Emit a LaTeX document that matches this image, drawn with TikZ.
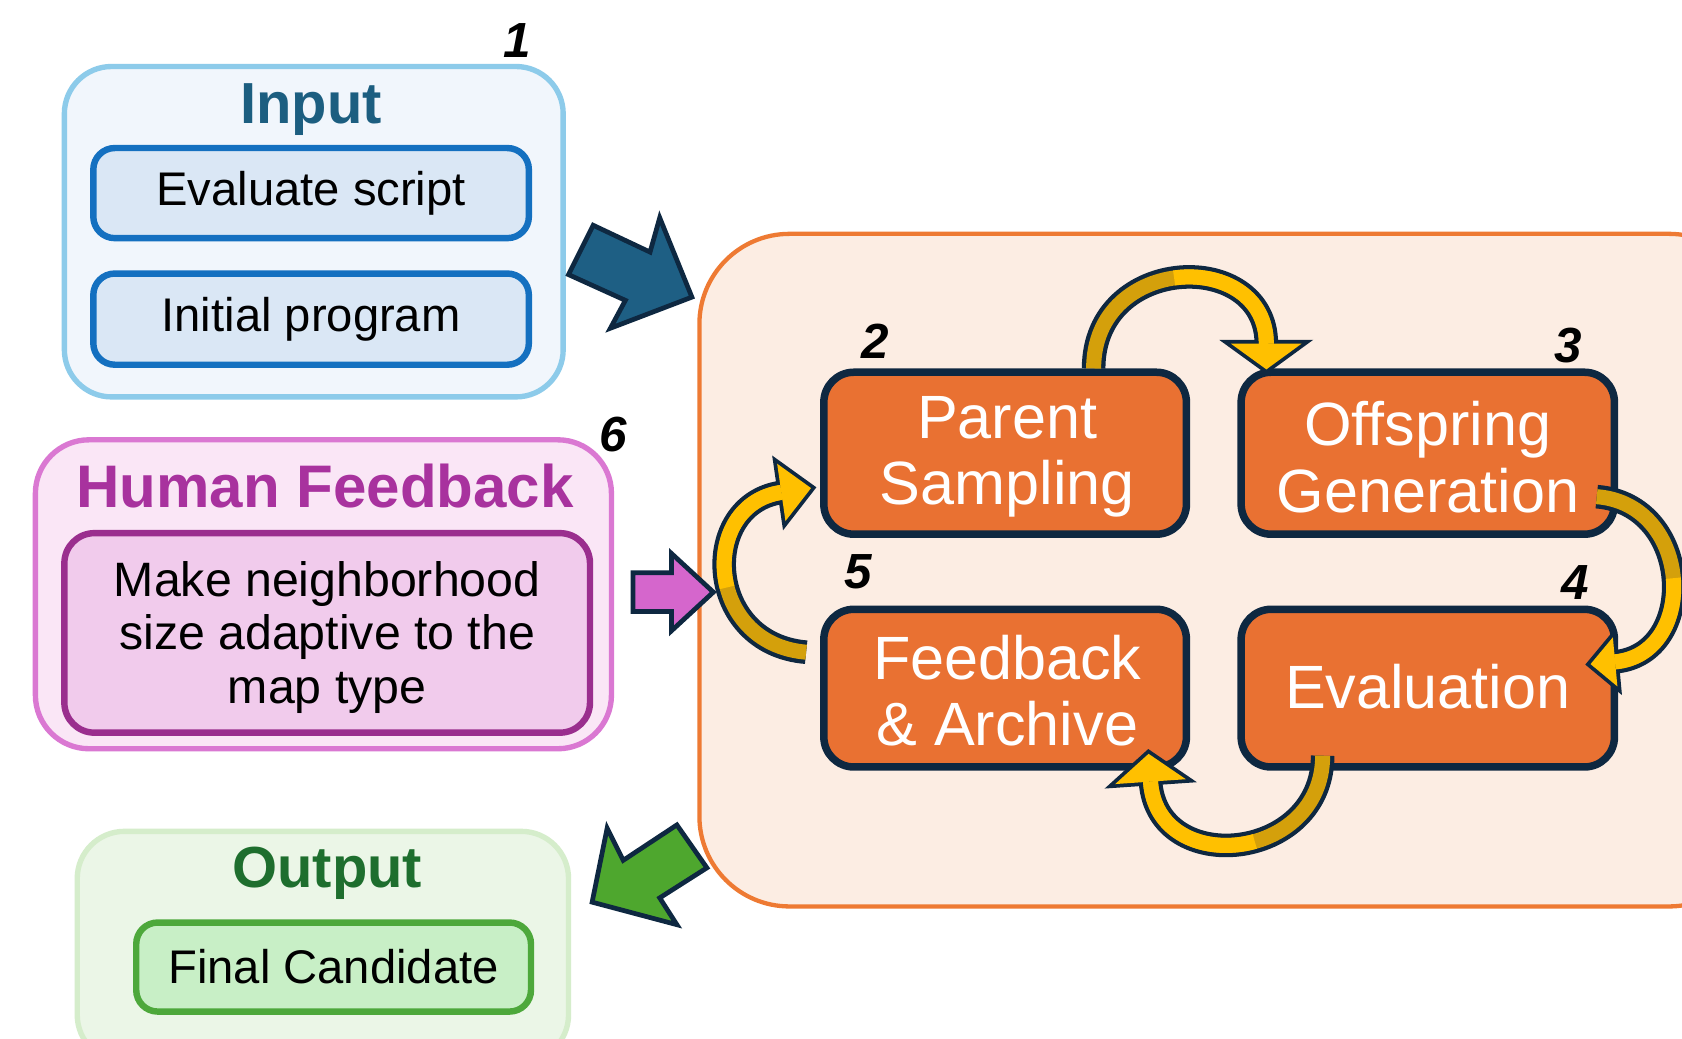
\documentclass[tikz,border=0pt]{standalone}
\usepackage{fontspec}
\setmainfont{Liberation Sans}
\usetikzlibrary{calc,decorations.markings}
\definecolor{navy}{HTML}{0E2841}
\definecolor{inoutfill}{HTML}{F1F6FC}
\definecolor{inoutdraw}{HTML}{8DCBEA}
\definecolor{intitle}{HTML}{1C5E80}
\definecolor{inboxfill}{HTML}{DAE7F5}
\definecolor{inboxdraw}{HTML}{1470C0}
\definecolor{hfoutfill}{HTML}{FAE6F6}
\definecolor{hfoutdraw}{HTML}{DA78D2}
\definecolor{hftitle}{HTML}{A8329E}
\definecolor{hfboxfill}{HTML}{F1CBEC}
\definecolor{hfboxdraw}{HTML}{9A2E8E}
\definecolor{ououtfill}{HTML}{EBF6E7}
\definecolor{ououtdraw}{HTML}{D5EDCB}
\definecolor{outitle}{HTML}{1E6E2E}
\definecolor{ouboxfill}{HTML}{C8EFC6}
\definecolor{ouboxdraw}{HTML}{4DA83B}
\definecolor{loopfill}{HTML}{FCEDE3}
\definecolor{loopdraw}{HTML}{EE7A33}
\definecolor{stepfill}{HTML}{E97132}
\definecolor{cgold}{HTML}{D4A00B}
\definecolor{cgoldhead}{HTML}{FFC000}
\definecolor{arrblue}{HTML}{1E5F84}
\definecolor{arrpink}{HTML}{D566CC}
\definecolor{arrgreen}{HTML}{4EA72E}
\begin{document}
\begin{tikzpicture}[x=0.5pt,y=-0.5pt,
  outerbox/.style={rounded corners=22pt, line width=2.5pt, inner sep=0pt},
  innerbox/.style={rounded corners=10pt, line width=3pt, inner sep=0pt, align=center,
    font=\fontsize{22}{25}\selectfont},
  titletext/.style={font=\fontsize{27}{30}\selectfont\bfseries, inner sep=0pt},
  stepbox/.style={draw=navy, fill=stepfill, line width=3.5pt, rounded corners=14pt,
    inner sep=0pt, text=white, align=center, font=\fontsize{28.5}{31}\selectfont},
  numtext/.style={font=\fontsize{23}{26}\selectfont\bfseries\itshape, inner sep=0pt},
  blockarrow/.style={draw=navy, line width=2.2pt, line join=miter},
  carrow/.style n args={3}{draw=navy, line width=11pt,
    postaction={decorate, decoration={markings, mark=at position 0.999 with
      {\filldraw[navy, line width=3.5pt, line join=miter] (0,-#1) -- (#2,0) -- (0,#1) -- cycle;}}},
    postaction={draw=cgold, line width=7pt},
    postaction={draw=cgoldhead, line width=7pt, dash pattern=on 0pt off #3 on 600pt off 0pt},
    postaction={decorate, decoration={markings, mark=at position 0.999 with
      {\fill[cgoldhead] (0,-#1) -- (#2,0) -- (0,#1) -- cycle;}}}},
  ]
\useasboundingbox (0,0) rectangle (1568,968);
\clip (0,0) rectangle (1568,968);
\fill[white] (0,0) rectangle (1568,968);

% ---------- Input ----------
\node[outerbox, draw=inoutdraw, fill=inoutfill, minimum width=232.5pt, minimum height=154pt] (inbox) at (292.5,216) {};
\node[titletext, text=intitle] (intitle) at (290,102) {Input};
\node[innerbox, draw=inboxdraw, fill=inboxfill, minimum width=203pt, minimum height=42pt] (evs) at (290,180) {Evaluate script};
\node[innerbox, draw=inboxdraw, fill=inboxfill, minimum width=203pt, minimum height=42.5pt] (ip) at (290,297.5) {Initial program};
\node[numtext] (n1) at (482,38) {1};

% ---------- Human Feedback ----------
\node[outerbox, rounded corners=25pt, draw=hfoutdraw, fill=hfoutfill, minimum width=268.5pt, minimum height=144pt] (hfbox) at (301.5,554) {};
\node[titletext, font=\fontsize{28}{30}\selectfont\bfseries, text=hftitle] (hftitle) at (303,453) {Human Feedback};
\node[innerbox, rounded corners=14pt, draw=hfboxdraw, fill=hfboxfill, minimum width=245pt, minimum height=93pt,
  font=\fontsize{22.5}{25}\selectfont] (hftext) at (305,590) {};
\node[align=center, inner sep=0pt, font=\fontsize{22.5}{25}\selectfont] (hftxt) at (305,594) {Make neighborhood\\size adaptive to the\\map type};
\node[numtext] (n6) at (572,405) {6};

% ---------- Output ----------
\node[outerbox, draw=ououtdraw, fill=ououtfill, minimum width=229pt, minimum height=107.5pt] (oubox) at (301,882.5) {};
\node[titletext, text=outitle] (outitle) at (305,814) {Output};
\node[innerbox, draw=ouboxdraw, fill=ouboxfill, minimum width=184pt, minimum height=41.5pt] (fc) at (311,901.5) {Final Candidate};

% ---------- Loop box ----------
\node[rounded corners=42pt, line width=2pt, draw=loopdraw, fill=loopfill, minimum width=494pt, minimum height=313.5pt] (loop) at (1146,531.5) {};

% ---------- Block arrows ----------
\draw[blockarrow, fill=arrblue] (553,210) -- (606,235) -- (615,203) -- (645,277) -- (569,306) -- (583,280) -- (530,256) -- cycle;
\draw[blockarrow, fill=arrpink] (590,534) -- (626,534) -- (626,516) -- (665,552) -- (626,588) -- (626,570) -- (590,570) -- cycle;
\draw[blockarrow, fill=arrgreen] (552,841) -- (566,772) -- (581,802) -- (631,769) -- (659,809) -- (615,837) -- (631,862) -- cycle;

% ---------- Steps ----------
\node[stepbox, minimum width=169pt, minimum height=75.5pt] (ps) at (937,422.5) {};
\node[stepbox, minimum width=174pt, minimum height=75.5pt] (og) at (1331,422.5) {};
\node[stepbox, minimum width=169pt, minimum height=73.5pt] (fa) at (937,641.5) {};
\node[stepbox, minimum width=174pt, minimum height=73.5pt] (ev) at (1331,641.5) {};
\node[stepbox, draw=none, fill=none] (pst) at (939,426) {Parent\\Sampling};
\node[stepbox, draw=none, fill=none] (ogt) at (1331,426) {Offspring\\Generation};
\node[stepbox, draw=none, fill=none] (fat) at (939,644) {Feedback\\\&~Archive};
\node[stepbox, draw=none, fill=none] (evt) at (1331,640) {Evaluation};
\node[numtext] (n2) at (816,318) {2};
\node[numtext] (n3) at (1462,322) {3};
\node[numtext] (n5) at (800,533) {5};
\node[numtext] (n4) at (1468,543) {4};

% ---------- Curved arrows ----------
\draw[carrow={33}{24}{62pt}] ($(ps.north west)+(255,0)$) .. controls +(0,-107) and +(0,-89) .. ($(og.north west)+(27,-23)$);
\draw[carrow={23}{23}{57pt}] ($(og.east)+(-20,40.5)$) .. controls +(90,7) and +(78,-7) .. ($(ev.east)+(-3,-24.5)$);
\draw[carrow={33}{26}{55pt}] ($(ev.south)+(-98,-14)$) .. controls +(0,99) and +(6,90) .. ($(fa.south east)+(-37,10)$);
\draw[carrow={27}{28}{51pt}] ($(fa.west)+(-13,-33.5)$) .. controls +(-95,-8) and +(-77,11) .. ($(ps.west)+(-36,36.5)$);
\end{tikzpicture}
\end{document}
